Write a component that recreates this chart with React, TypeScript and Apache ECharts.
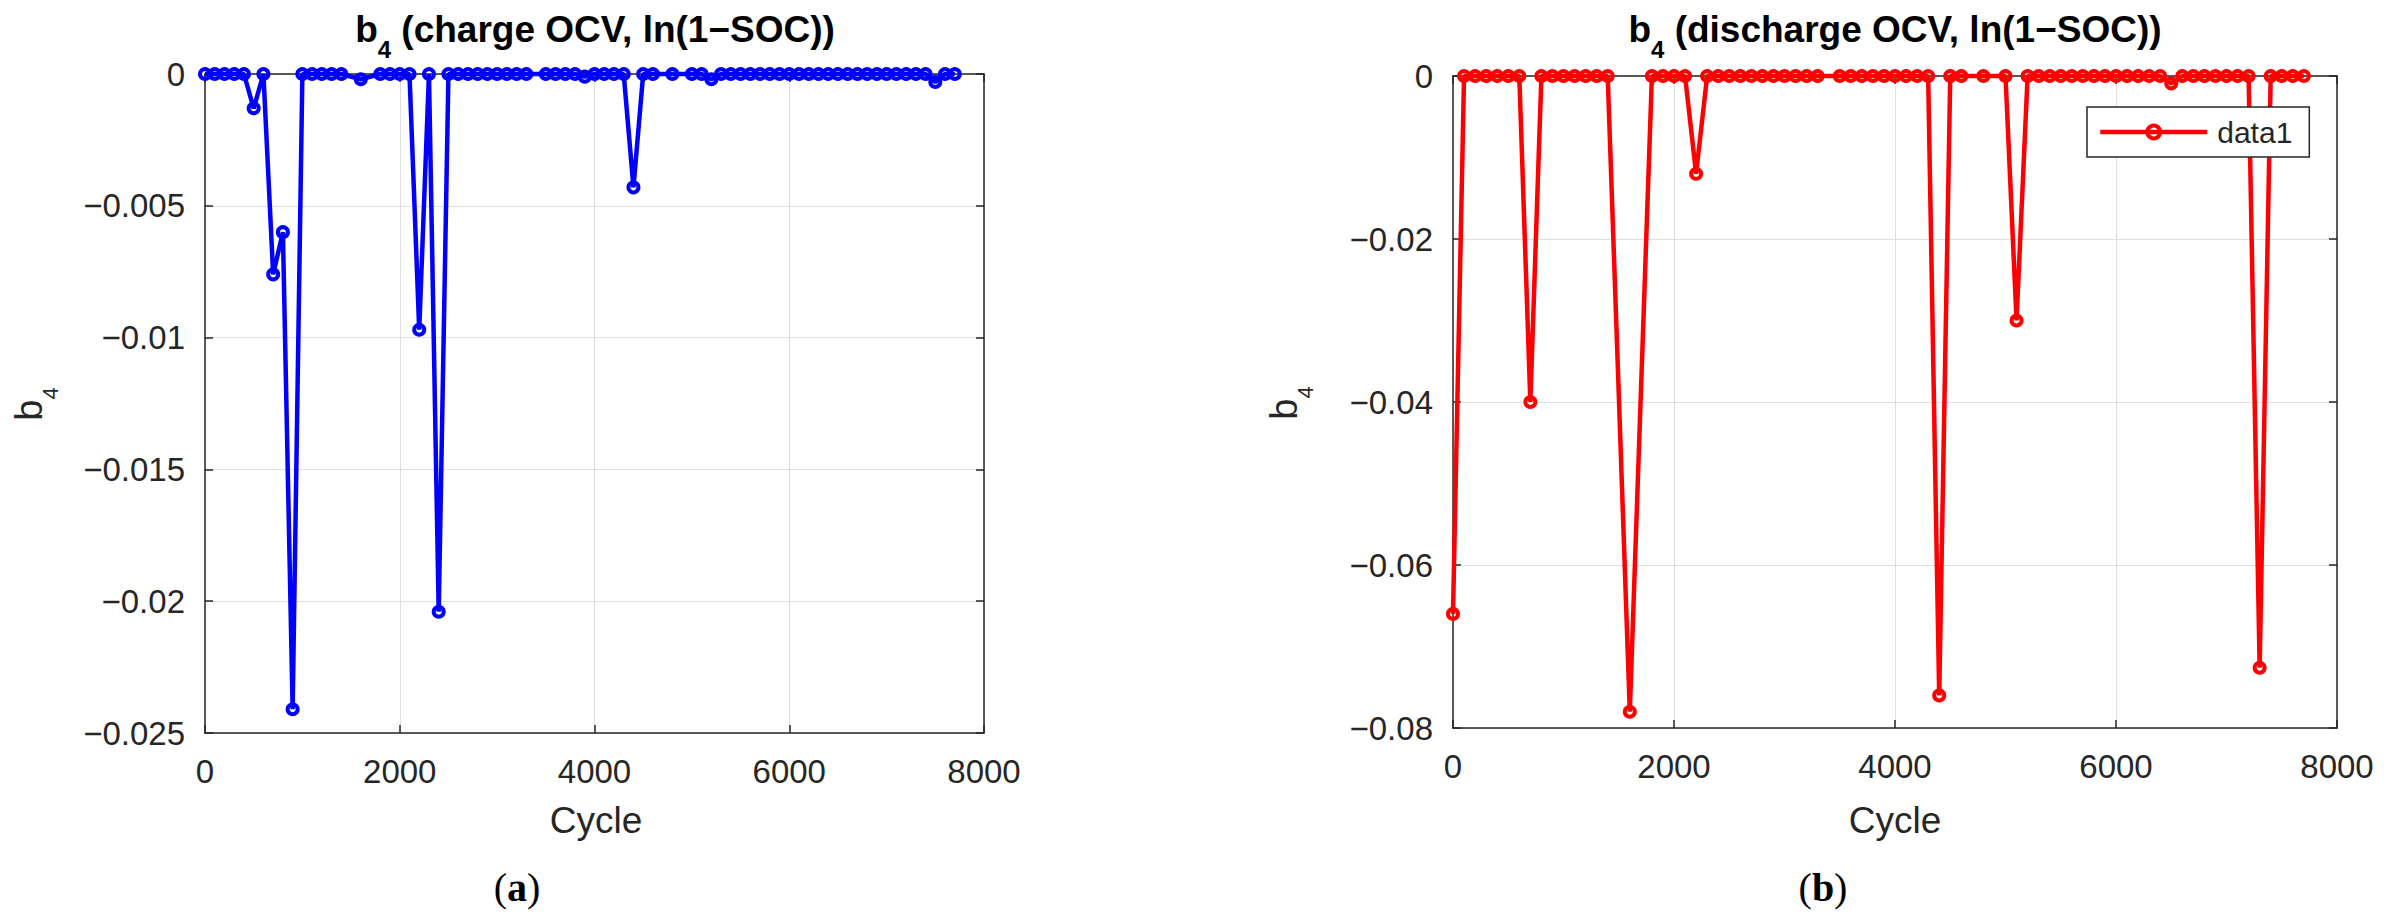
import React, { useEffect, useRef } from "react";
import * as echarts from "echarts";

// Cycle numbers at which b4 was estimated (some cycles have no value)
const cycles = [
  0, 100, 200, 300, 400, 500, 600, 700, 800, 900, 1000, 1100, 1200, 1300, 1400,
  1600, 1800, 1900, 2000, 2100, 2200, 2300, 2400, 2500, 2600, 2700, 2800, 2900,
  3000, 3100, 3200, 3300, 3500, 3600, 3700, 3800, 3900, 4000, 4100, 4200, 4300,
  4400, 4500, 4600, 4800, 5000, 5100, 5200, 5300, 5400, 5500, 5600, 5700, 5800,
  5900, 6000, 6100, 6200, 6300, 6400, 6500, 6600, 6700, 6800, 6900, 7000, 7100,
  7200, 7300, 7400, 7500, 7600, 7700,
];

// (a) b4, charge OCV, ln(1-SOC)
const chargeB4 = [
  0, 0, 0, 0, 0, -0.0013, 0, -0.0076, -0.006, -0.0241, 0, 0, 0, 0, 0,
  -0.0002, 0, 0, 0, 0, -0.0097, 0, -0.0204, 0, 0, 0, 0, 0,
  0, 0, 0, 0, 0, 0, 0, 0, -0.0001, 0, 0, 0, 0,
  -0.0043, 0, 0, 0, 0, 0, -0.0002, 0, 0, 0, 0, 0, 0,
  0, 0, 0, 0, 0, 0, 0, 0, 0, 0, 0, 0, 0,
  0, 0, 0, -0.0003, 0, 0,
];

// (b) b4, discharge OCV, ln(1-SOC)
const dischargeB4 = [
  -0.066, 0, 0, 0, 0, 0, 0, -0.04, 0, 0, 0, 0, 0, 0, 0,
  -0.078, 0, 0, 0, 0, -0.012, 0, 0, 0, 0, 0, 0, 0,
  0, 0, 0, 0, 0, 0, 0, 0, 0, 0, 0, 0, 0,
  -0.076, 0, 0, 0, 0, -0.03, 0, 0, 0, 0, 0, 0, 0,
  0, 0, 0, 0, 0, 0, -0.0009, 0, 0, 0, 0, 0, 0,
  0, -0.0726, 0, 0, 0, 0,
];

const xMin = 0;
const xMax = 8000;
const xStep = 2000;
const yMinA = -0.025;
const yStepA = 0.005;
const yMinB = -0.08;
const yStepB = 0.02;

const titleA = " (charge OCV, ln(1\u2212SOC))";
const titleB = " (discharge OCV, ln(1\u2212SOC))";
const xName = "Cycle";
const legendName = "data1";

const FONT = "'Liberation Sans', Arial, Helvetica, sans-serif";
const AX = "#262626";
const GRIDC = "#dedede";
const LW = 4.5;
const MS = 10;
const MB = 4;

function fmt(v: number): string {
  if (Math.abs(v) < 1e-12) return "0";
  const s = parseFloat(Math.abs(v).toFixed(4)).toString();
  return (v < 0 ? "\u2212" : "") + s;
}

function xAxes(gi: number) {
  const common = {
    gridIndex: gi,
    type: "value",
    min: xMin,
    max: xMax,
    interval: xStep,
    axisLine: { show: true, onZero: false, lineStyle: { color: AX, width: 1.5 } },
    axisTick: { show: true, inside: true, length: 8, lineStyle: { color: AX, width: 1.5 } },
  };
  return [
    {
      ...common,
      position: "bottom",
      axisLabel: { show: true, margin: 22, fontSize: 33, color: AX, fontFamily: FONT, formatter: (v: number) => String(v) },
      splitLine: { show: true, lineStyle: { color: GRIDC, width: 1 } },
    },
    {
      ...common,
      position: "top",
      axisLabel: { show: false },
      splitLine: { show: false },
    },
  ];
}

function yAxes(gi: number, min: number, step: number) {
  const common = {
    gridIndex: gi,
    type: "value",
    min: min,
    max: 0,
    interval: step,
    axisLine: { show: true, onZero: false, lineStyle: { color: AX, width: 1.5 } },
    axisTick: { show: true, inside: true, length: 8, lineStyle: { color: AX, width: 1.5 } },
  };
  return [
    {
      ...common,
      position: "left",
      axisLabel: { show: true, margin: 20, fontSize: 33, color: AX, fontFamily: FONT, formatter: fmt },
      splitLine: { show: true, lineStyle: { color: GRIDC, width: 1 } },
    },
    {
      ...common,
      position: "right",
      axisLabel: { show: false },
      splitLine: { show: false },
    },
  ];
}

function subText(x: number, y: number, rest: string, opts: { size: number; sub: number; bold: boolean; rot?: number; color: string }) {
  const w = opts.bold ? "bold" : "normal";
  return {
    type: "text",
    x,
    y,
    rotation: opts.rot || 0,
    silent: true,
    style: {
      text: "{m|b}{s|4}" + (rest ? "{m|" + rest + "}" : ""),
      align: "center",
      verticalAlign: "middle",
      rich: {
        m: { fontSize: opts.size, fontWeight: w, fontFamily: FONT, fill: opts.color, lineHeight: 64 },
        s: { fontSize: opts.sub, fontWeight: w, fontFamily: FONT, fill: opts.color, lineHeight: 20, verticalAlign: "bottom" },
      },
    },
  };
}

function plainText(x: number, y: number, text: string, size: number) {
  return {
    type: "text",
    x,
    y,
    silent: true,
    style: { text, align: "center", verticalAlign: "middle", fontSize: size, fontFamily: FONT, fill: AX },
  };
}

function caption(x: number, y: number, letter: string) {
  const serif = "'Liberation Serif', 'DejaVu Serif', serif";
  return {
    type: "text",
    x,
    y,
    silent: true,
    style: {
      text: "{p|(}{b|" + letter + "}{p|)}",
      align: "center",
      verticalAlign: "middle",
      rich: {
        p: { fontSize: 40, fontFamily: serif, fill: "#000" },
        b: { fontSize: 40, fontFamily: serif, fontWeight: "bold", fill: "#000" },
      },
    },
  };
}

export default function App() {
  const ref = useRef<HTMLDivElement>(null);
  useEffect(() => {
    if (!ref.current) return;
    const chart = echarts.init(ref.current, undefined, { renderer: "svg" });
    const option: any = {
      animation: false,
      backgroundColor: "#ffffff",
      grid: [
        { left: 205, top: 74, width: 779, height: 659, containLabel: false, outerBoundsMode: "none" },
        { left: 1453, top: 76, width: 884, height: 652, containLabel: false, outerBoundsMode: "none" },
      ],
      xAxis: [...xAxes(0), ...xAxes(1)],
      yAxis: [...yAxes(0, yMinA, yStepA), ...yAxes(1, yMinB, yStepB)],
      legend: {
        data: [legendName],
        left: 2087,
        top: 107,
        itemWidth: 107,
        itemHeight: 16,
        padding: [10, 17, 10, 11],
        borderColor: AX,
        borderWidth: 1.5,
        borderRadius: 0,
        backgroundColor: "#ffffff",
        selectedMode: false,
        lineStyle: { width: LW, color: "#ff0000" },
        itemStyle: { color: "rgba(0,0,0,0)", borderColor: "#ff0000", borderWidth: MB },
        textStyle: { fontSize: 30, color: AX, fontFamily: FONT, padding: [0, 0, 0, 5] },
      },
      series: [
        {
          name: "charge",
          type: "line",
          xAxisIndex: 0,
          yAxisIndex: 0,
          data: cycles.map((c, i) => [c, chargeB4[i]]),
          symbol: "circle",
          symbolSize: MS,
          showSymbol: true,
          clip: false,
          silent: true,
          lineStyle: { color: "#0000ff", width: LW },
          itemStyle: { color: "rgba(0,0,0,0)", borderColor: "#0000ff", borderWidth: MB },
          emphasis: { disabled: true },
        },
        {
          name: legendName,
          type: "line",
          xAxisIndex: 2,
          yAxisIndex: 2,
          data: cycles.map((c, i) => [c, dischargeB4[i]]),
          symbol: "circle",
          symbolSize: MS,
          showSymbol: true,
          clip: false,
          silent: true,
          lineStyle: { color: "#ff0000", width: LW },
          itemStyle: { color: "rgba(0,0,0,0)", borderColor: "#ff0000", borderWidth: MB },
          emphasis: { disabled: true },
        },
      ],
      graphic: [
        subText(595, 29, titleA, { size: 37, sub: 24, bold: true, color: "#000" }),
        subText(1895, 29, titleB, { size: 37, sub: 24, bold: true, color: "#000" }),
        subText(29, 404, "", { size: 38, sub: 22, bold: false, rot: Math.PI / 2, color: AX }),
        subText(1284, 403, "", { size: 38, sub: 22, bold: false, rot: Math.PI / 2, color: AX }),
        plainText(596, 820, xName, 37),
        plainText(1895, 820, xName, 37),
        caption(517, 887, "a"),
        caption(1823, 887, "b"),
      ],
    };
    chart.setOption(option);
    return () => chart.dispose();
  }, []);
  return (
    <div
      ref={ref}
      style={{ position: "absolute", left: 0, top: 0, width: 2387, height: 920, background: "#fff" }}
    />
  );
}
